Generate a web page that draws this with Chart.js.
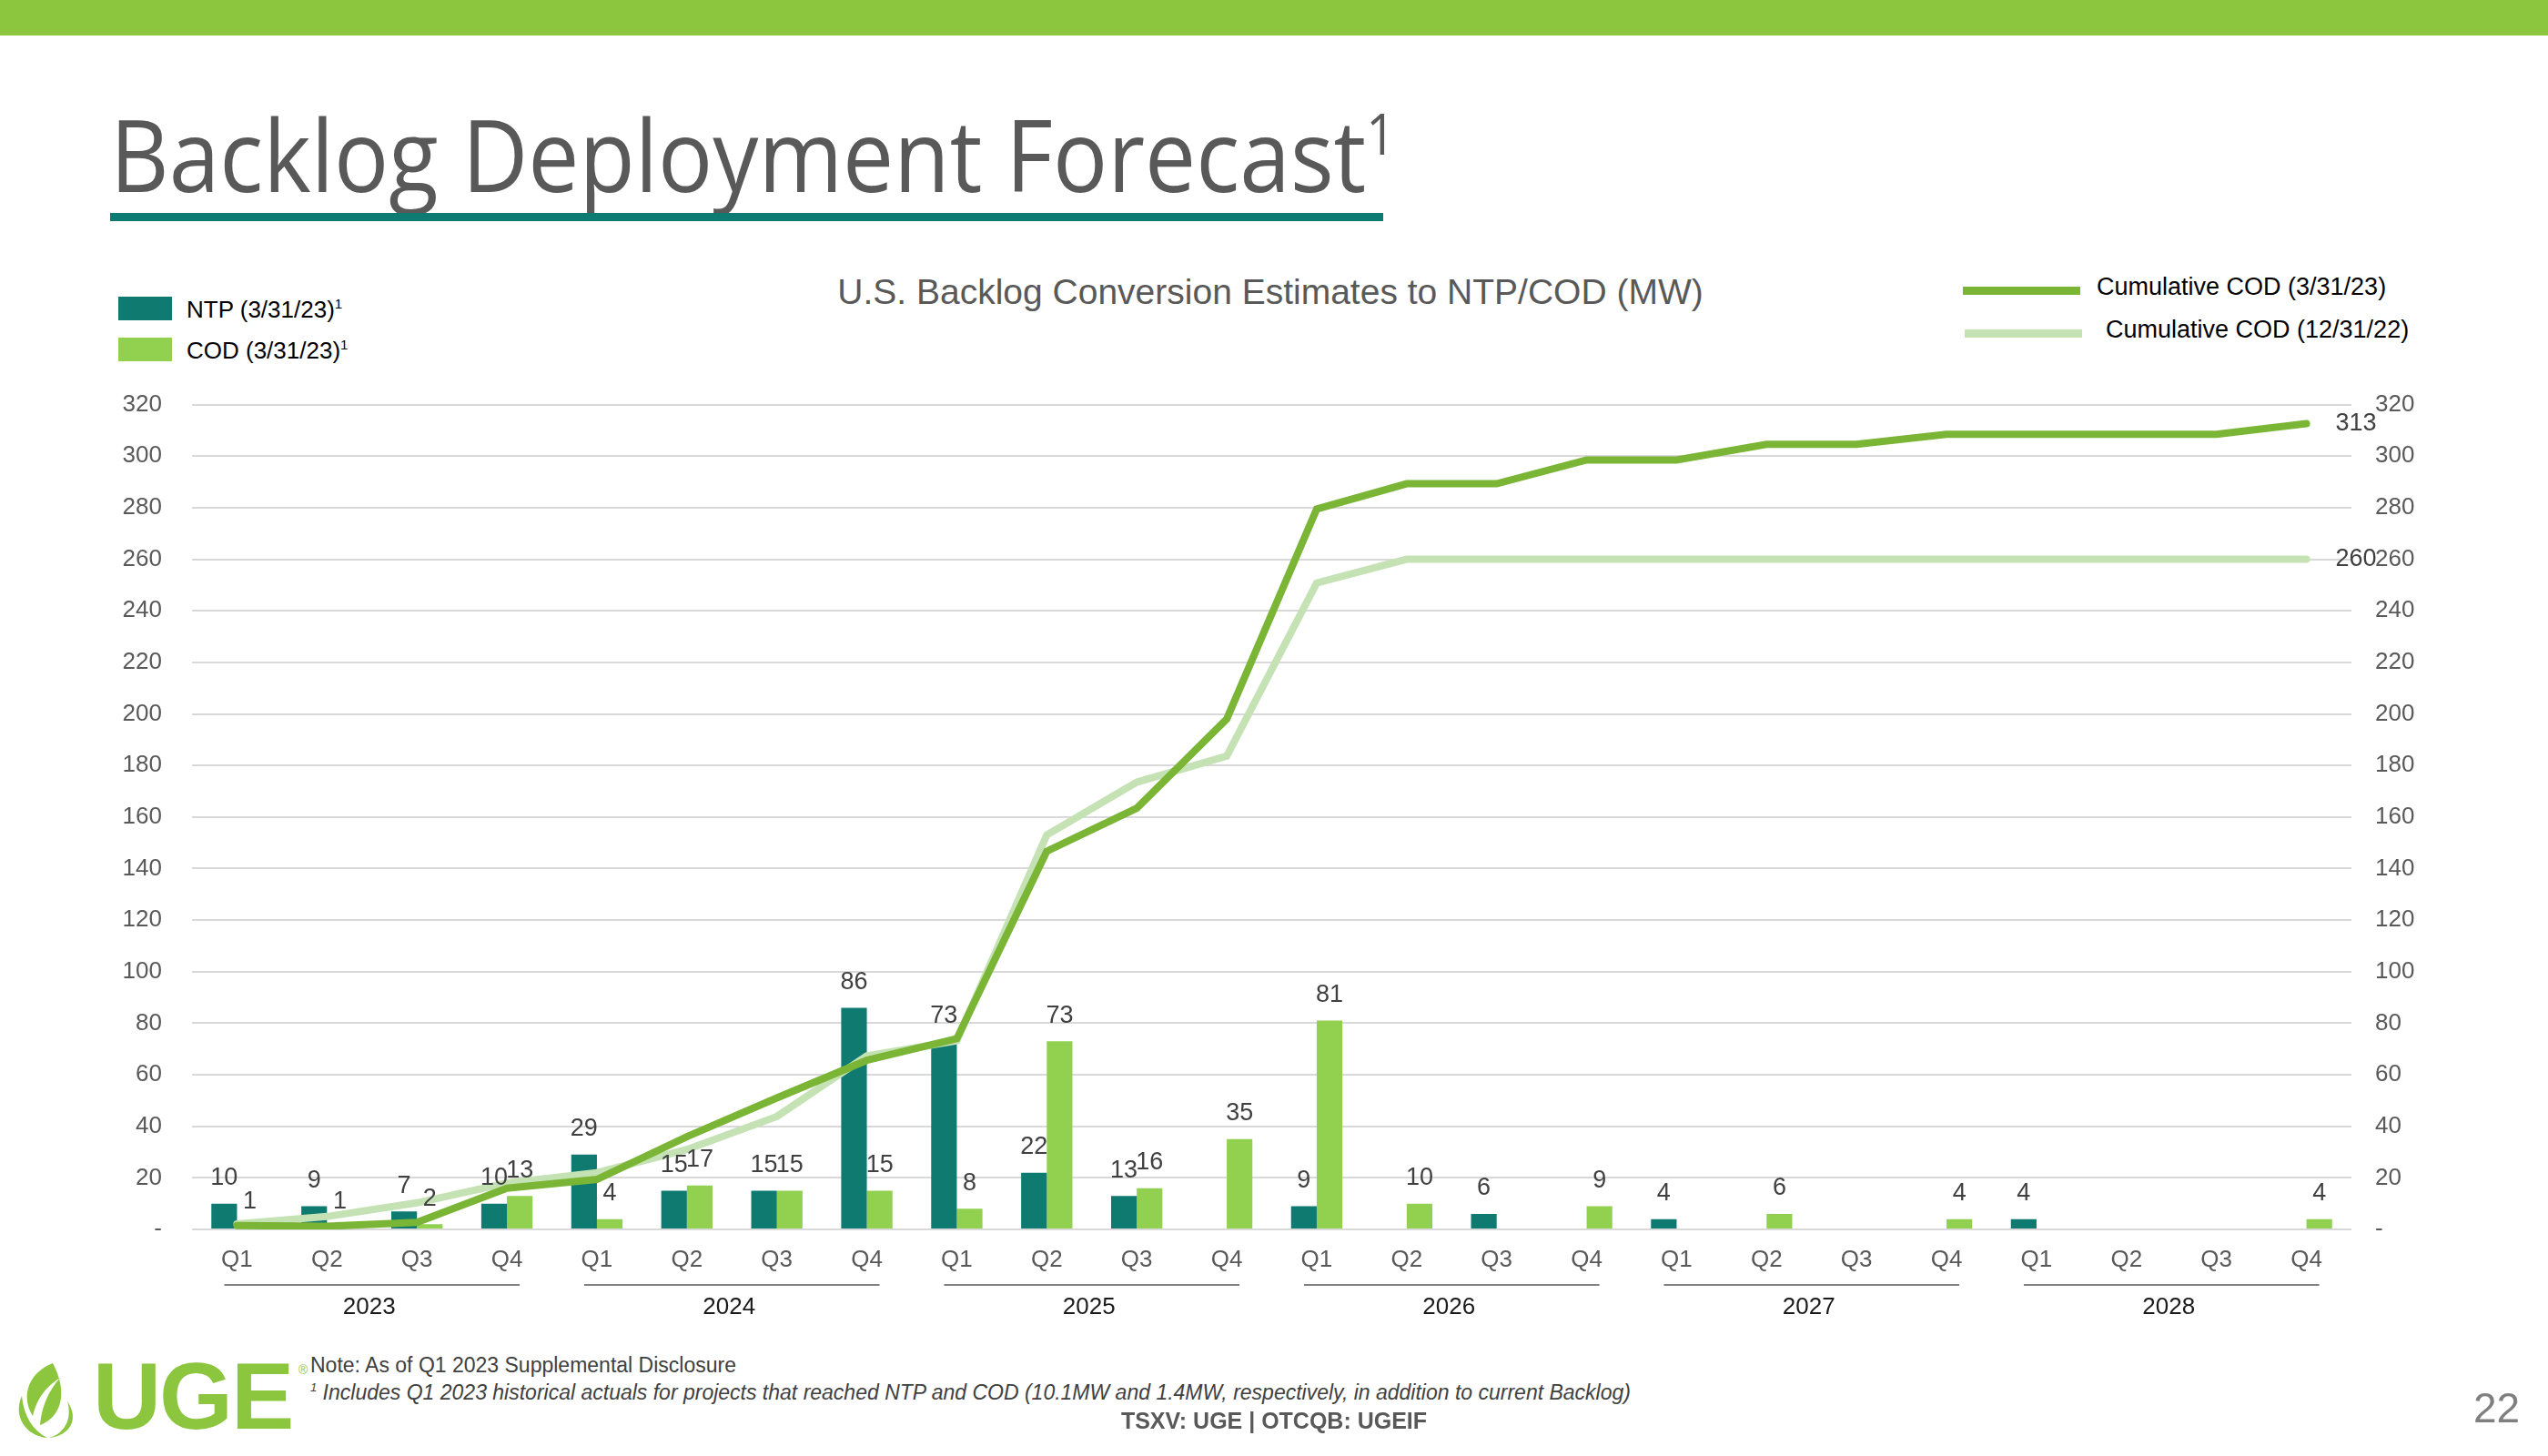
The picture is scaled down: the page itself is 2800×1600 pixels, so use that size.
<!DOCTYPE html>
<html>
<head>
<meta charset="utf-8">
<script src="https://cdn.jsdelivr.net/npm/chart.js@4.4.0/dist/chart.umd.min.js"></script>
<style>
body{margin:0;width:2800px;height:1600px;position:relative;background:#fff;font-family:"Liberation Sans",Arial,sans-serif;overflow:hidden}
.band{position:absolute;left:0;top:0;width:2800px;height:39px;background:#8CC63F}
.title{position:absolute;left:121px;top:113px;font-family:"Open Sans";font-size:110px;line-height:1;color:#595959;transform:scaleX(0.91);transform-origin:left top;white-space:nowrap}
.title sup{font-size:62px;vertical-align:top;position:relative;top:2px}
.rule{position:absolute;left:121px;top:234px;width:1399px;height:9px;background:#0E7A72}
.ctitle{position:absolute;left:0;width:2800px;top:299px;text-align:center;font-size:39px;color:#595959;padding-right:8px;box-sizing:border-box}
.leg{position:absolute;font-size:26px;color:#000;white-space:nowrap}
.leg i{position:absolute;left:-75px;top:1px;width:59px;height:26px}
.leg sup{font-size:15px}
.lleg{position:absolute;font-size:27px;color:#000;white-space:nowrap}
.lleg i{position:absolute;height:9px;width:129px}
#wrap{position:absolute;left:0;top:396px;width:2800px;height:1084px}
.note{position:absolute;left:341px;font-size:23px;color:#404040;white-space:nowrap}
.tsx{position:absolute;left:0;width:2800px;top:1547px;text-align:center;font-size:25px;font-weight:bold;color:#595959}
.page{position:absolute;left:2718px;top:1520px;font-size:46px;color:#7f7f7f}
.logo{position:absolute;left:102px;top:1482px;font-size:104px;font-weight:bold;color:#8CC63F;letter-spacing:-2px;line-height:1}
.reg{position:absolute;left:328px;top:1497px;font-size:14px;color:#8CC63F}
</style>
</head>
<body>
<div class="band"></div>
<div class="title">Backlog Deployment Forecast<sup>1</sup></div>
<div class="rule"></div>
<div class="ctitle">U.S. Backlog Conversion Estimates to NTP/COD (MW)</div>

<div class="leg" style="left:205px;top:325px"><i style="background:#0E7A70"></i>NTP (3/31/23)<sup>1</sup></div>
<div class="leg" style="left:205px;top:370px"><i style="background:#92D050"></i>COD (3/31/23)<sup>1</sup></div>
<div class="lleg" style="left:2304px;top:300px"><i style="left:-147px;top:15px;background:#7AB536"></i>Cumulative COD (3/31/23)</div>
<div class="lleg" style="left:2314px;top:347px"><i style="left:-155px;top:15px;background:#C5E2B4"></i>Cumulative COD (12/31/22)</div>

<div id="wrap"><canvas id="chart" width="2800" height="1084"></canvas></div>

<svg style="position:absolute;left:14px;top:1494px" width="90" height="90" viewBox="0 0 90 90">
  <path d="M44 4 C18 14 8 40 22 62 C26 44 36 30 52 20 C40 34 32 50 30 72 C52 64 62 38 44 4 Z" fill="#8CC63F"/>
  <path d="M10 40 C0 62 14 84 38 86 C22 78 12 62 10 40 Z" fill="#8CC63F"/>
  <path d="M60 46 C66 66 56 82 40 86 C62 84 74 66 60 46 Z" fill="#8CC63F"/>
</svg>
<div class="logo">UGE</div>
<div class="reg">®</div>
<div class="note" style="top:1487px">Note: As of Q1 2023 Supplemental Disclosure</div>
<div class="note" style="top:1517px;font-style:italic"><sup style="font-size:13px">1</sup> Includes Q1 2023 historical actuals for projects that reached NTP and COD (10.1MW and 1.4MW, respectively, in addition to current Backlog)</div>
<div class="tsx">TSXV: UGE | OTCQB: UGEIF</div>
<div class="page">22</div>

<script>
// data
var quarters = ['Q1','Q2','Q3','Q4','Q1','Q2','Q3','Q4','Q1','Q2','Q3','Q4',
                'Q1','Q2','Q3','Q4','Q1','Q2','Q3','Q4','Q1','Q2','Q3','Q4'];
var years = ['2023','2024','2025','2026','2027','2028'];
var ntp = [10,9,7,10,29,15,15,86,73,22,13,0,9,0,6,0,4,0,0,0,4,0,0,0];
var cod = [1,1,2,13,4,17,15,15,8,73,16,35,81,10,0,9,0,6,0,4,0,0,0,4];
var cumCod0331 = [1.5,1.2,2.7,16,19.4,36,51,65.6,74,146.7,163.4,198,
                  279.5,289.3,289.3,298.5,298.5,304.6,304.6,308.5,308.5,308.5,308.5,312.6];
var cumCod1231 = [2.1,5,10.3,18,22,31,43.8,67.3,73.2,153,173.5,183.6,
                  250.8,260,260,260,260,260,260,260,260,260,260,260];

var FONT = '"Liberation Sans", Arial, sans-serif';

//Value labels above bars + end labels on the lines
var labelsPlugin = {
  id: 'labels',
  afterDatasetsDraw: function (chart) {
    var ctx = chart.ctx;
    ctx.save();
    ctx.font = '27px ' + FONT;
    ctx.fillStyle = '#404040';
    ctx.textAlign = 'center';
    ctx.textBaseline = 'middle';
    [0, 1].forEach(function (d) {
      var meta = chart.getDatasetMeta(d);
      var vals = chart.data.datasets[d].data;
      meta.data.forEach(function (bar, i) {
        if (vals[i] > 0) ctx.fillText(vals[i], bar.x, bar.y - 28);
      });
    });
    ctx.textAlign = 'left';
    [2, 3].forEach(function (d) {
      var meta = chart.getDatasetMeta(d);
      var vals = chart.data.datasets[d].data;
      var last = meta.data[meta.data.length - 1];
      ctx.fillText(Math.round(vals[vals.length - 1]), last.x + 32, last.y);
    });
    ctx.restore();
  }
};

//Year groups under the quarters
var yearsPlugin = {
  id: 'years',
  afterDraw: function (chart) {
    var ctx = chart.ctx, x = chart.scales.x, base = chart.chartArea.bottom;
    ctx.save();
    ctx.strokeStyle = '#808080';
    ctx.lineWidth = 2;
    ctx.font = '26px ' + FONT;
    ctx.fillStyle = '#1a1a1a';
    ctx.textAlign = 'center';
    ctx.textBaseline = 'middle';
    years.forEach(function (y, k) {
      var a = x.getPixelForValue(k * 4), b = x.getPixelForValue(k * 4 + 3);
      ctx.beginPath();
      ctx.moveTo(a - 14, base + 61);
      ctx.lineTo(b + 14, base + 61);
      ctx.stroke();
      ctx.fillText(y, (a + b) / 2 - 3, base + 86);
    });
    ctx.restore();
  }
};

var tickCb = function (v) { return v === 0 ? '-' : v; };

new Chart(document.getElementById('chart'), {
  type: 'bar',
  data: {
    labels: quarters,
    datasets: [
      { label: 'NTP (3/31/23)', data: ntp, backgroundColor: '#0E7A70', yAxisID: 'y', order: 3,
        categoryPercentage: 0.57, barPercentage: 1 },
      { label: 'COD (3/31/23)', data: cod, backgroundColor: '#92D050', yAxisID: 'y', order: 3,
        categoryPercentage: 0.57, barPercentage: 1 },
      { type: 'line', label: 'Cumulative COD (3/31/23)', data: cumCod0331, yAxisID: 'y1', order: 1,
        borderColor: '#7AB536', borderWidth: 8, pointRadius: 0, borderCapStyle: 'round', tension: 0 },
      { type: 'line', label: 'Cumulative COD (12/31/22)', data: cumCod1231, yAxisID: 'y1', order: 2,
        borderColor: '#C5E2B4', borderWidth: 8, pointRadius: 0, borderCapStyle: 'round', tension: 0 }
    ]
  },
  options: {
    responsive: false,
    animation: false,
    devicePixelRatio: 1,
    layout: { padding: { top: 24, left: 0, right: 0, bottom: 0 } },
    plugins: { legend: { display: false }, tooltip: { enabled: false } },
    scales: {
      x: {
        grid: { display: false, drawTicks: false },
        border: { display: false },
        ticks: { color: '#595959', font: { size: 26, family: FONT }, padding: 18, maxRotation: 0, autoSkip: false },
        afterFit: function (s) { s.height = 129; }
      },
      y: {
        position: 'left', min: 0, max: 320,
        grid: { color: '#D9D9D9', lineWidth: 2, drawTicks: false },
        border: { display: false },
        ticks: { stepSize: 20, color: '#595959', font: { size: 26, family: FONT }, padding: 33, callback: tickCb },
        afterFit: function (s) { s.width = 211; }
      },
      y1: {
        position: 'right', min: 0, max: 320,
        grid: { display: false, drawTicks: false },
        border: { display: false },
        ticks: { stepSize: 20, color: '#595959', font: { size: 26, family: FONT }, padding: 26, callback: tickCb },
        afterFit: function (s) { s.width = 216; }
      }
    }
  },
  plugins: [labelsPlugin, yearsPlugin]
});
</script>
</body>
</html>
